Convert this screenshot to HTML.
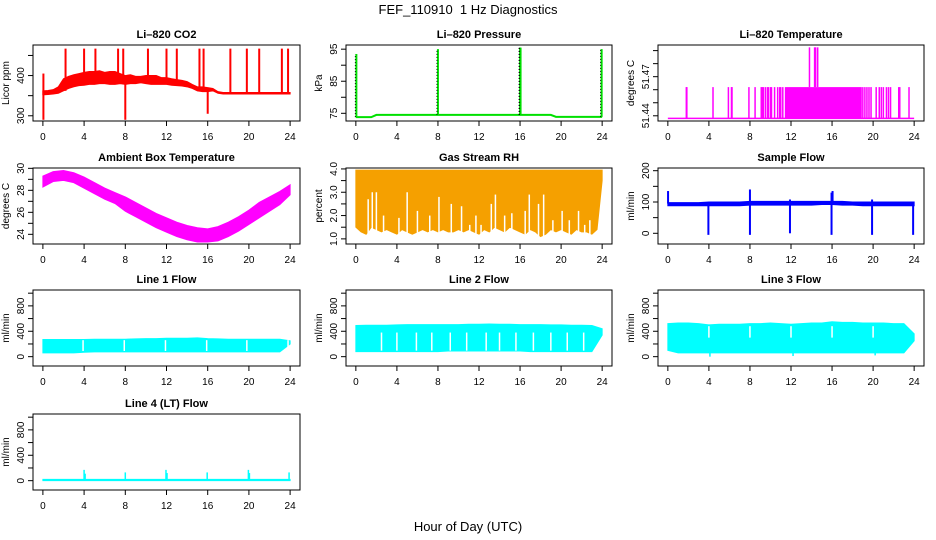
<!DOCTYPE html>
<html><head><meta charset="utf-8"><style>
html,body{margin:0;padding:0;background:#fff;}
svg{display:block;font-family:"Liberation Sans",Arial,sans-serif;}
</style></head><body>
<svg id="chart" width="936" height="540" viewBox="0 0 936 540">
<text x="468" y="14" text-anchor="middle" font-size="13">FEF_110910&#160; 1 Hz Diagnostics</text>
<text x="468" y="531" text-anchor="middle" font-size="13">Hour of Day (UTC)</text>
</svg>
<script>
// ---- data ----
const halfHours = [0,0.5,1,1.5,2,2.5,3,3.5,4,4.5,5,5.5,6,6.5,7,7.5,8,8.5,9,9.5,10,10.5,11,11.5,12,12.5,13,13.5,14,14.5,15,15.5,16,16.5,17,17.5,18,18.5,19,19.5,20,20.5,21,21.5,22,22.5,23,23.5,24];
const hours = [0,1,2,3,4,5,6,7,8,9,10,11,12,13,14,15,16,17,18,19,20,21,22,23,24];
const xTicks = [0,4,8,12,16,20,24];

const co2Lo = [352,353,354,356,362,368,372,375,376,378,378,380,380,378,378,380,378,380,380,382,380,378,378,378,378,376,375,374,372,368,362,360,360,362,356,354,354,354,354,354,354,354,354,354,354,354,354,354,354];
const co2Hi = [362,363,365,372,392,398,402,405,408,410,410,412,408,410,410,405,400,402,398,398,400,400,400,395,395,392,390,388,385,378,372,372,370,368,360,358,358,358,358,358,358,358,358,358,358,358,358,358,358];
const co2SpikeT = [0.05,2.2,4.0,5.1,7.3,7.8,10.2,12.0,13.0,15.2,15.6,18.2,19.8,21.0,23.2,23.8];
const co2SpikeV = [405,467,467,467,467,467,467,467,467,467,467,467,467,467,467,467];
const co2DipT = [0.05,8.0,16.0];
const co2DipV = [290,290,305];

const presBase = [73.8,73.8,73.8,73.8,74.5,74.5,74.5,74.5,74.5,74.5,74.5,74.5,74.5,74.5,74.5,74.5,74.5,74.5,74.5,74.5,74.5,74.5,74.5,74.5,74.5,74.5,74.5,74.5,74.5,74.5,74.5,74.5,74.5,74.5,74.5,74.5,74.5,74.5,74.5,73.9,73.9,73.9,73.9,73.9,73.9,73.9,73.9,73.9,73.9];
const presSpikeT = [0.05,8.0,16.0,16.05,23.95];
const presSpikeV = [93.5,95,95.5,95.5,95];

const tempBase = 51.438;
const tempSpikeT = [1.8,1.85,4.4,5.9,6.2,6.25,7.9,8.5,9.1,9.2,9.3,9.5,9.7,9.8,10.0,10.1,10.4,10.7,10.9,11.0,11.2,19.0,19.2,19.4,19.6,19.8,20.3,20.6,20.8,21.0,21.3,21.5,21.7,22.5,22.6,23.5];
const tempSpikeV = [51.462,51.462,51.462,51.462,51.462,51.462,51.462,51.462,51.462,51.462,51.462,51.462,51.462,51.462,51.462,51.462,51.462,51.462,51.462,51.462,51.462,51.462,51.462,51.462,51.462,51.462,51.462,51.462,51.462,51.462,51.462,51.462,51.462,51.462,51.462,51.462];
const tempDenseRange = [11.4,18.9];
const tempDenseV = 51.462;
const tempHighT = [13.8,14.3,14.4,14.6];
const tempHighV = [51.4925,51.4925,51.4925,51.4925];

const ambHi = [29.3,29.7,29.8,29.6,29.2,28.7,28.2,27.8,27.4,26.9,26.4,25.9,25.5,25.1,24.8,24.6,24.5,24.7,25.1,25.6,26.2,26.9,27.4,27.9,28.5];
const ambLo = [28.3,28.8,28.9,28.7,28.2,27.7,27.2,26.8,26.1,25.6,25.1,24.6,24.2,23.8,23.5,23.3,23.3,23.4,23.8,24.3,24.9,25.5,26.1,26.7,27.6];

const rhHi = 3.95;
const rhLo = [1.5,1.3,1.2,1.5,1.4,1.3,1.4,1.3,1.2,1.4,1.3,1.2,1.3,1.4,1.3,1.4,1.3,1.4,1.3,1.3,1.4,1.3,1.4,1.3,1.2,1.4,1.3,1.5,1.4,1.3,1.5,1.4,1.3,1.2,1.4,1.3,1.1,1.2,1.4,1.3,1.4,1.3,1.2,1.4,1.3,1.3,1.2,1.4,3.5];
const rhGapT = [1.2,1.6,2.0,2.7,4.2,5.0,6.0,7.2,8.1,9.3,10.3,11.1,11.7,12.2,13.2,13.6,14.5,15.2,16.5,16.9,17.8,18.3,19.2,20.1,20.8,21.7,22.3,22.8];
const rhGapTop = [2.7,3.0,3.0,2.0,1.9,3.0,2.2,2.0,2.8,2.5,2.4,1.6,2.0,1.6,2.5,2.9,2.0,2.1,2.2,2.9,2.5,2.9,1.8,2.2,1.8,2.2,1.6,1.8];

const sfLo = [88,88,88,88,88,88,88,88,90,90,90,90,90,90,90,92,92,90,90,88,88,88,88,88,88];
const sfHi = [98,98,98,98,100,100,100,100,102,102,102,102,102,102,102,102,102,102,100,100,100,100,100,100,100];
const sfSpikeT = [0.02,8.0,15.95,16.05,11.9,19.9];
const sfSpikeV = [135,140,130,135,108,108];
const sfDipT = [3.95,8.0,11.9,15.95,19.9,23.9];
const sfDipV = [-5,-5,0,-5,-5,-5];

const l1Lo = [60,60,60,60,70,75,75,75,75,75,75,75,75,75,75,75,75,75,75,75,75,75,75,75,200];
const l1Hi = [270,270,270,270,270,275,275,275,275,280,285,285,290,290,290,295,285,280,275,275,275,275,275,275,250];
const l1GapT = [3.9,7.9,11.9,15.9,19.8,23.8];

const l2Lo = [80,80,80,80,80,80,80,80,80,90,90,90,90,90,90,90,90,80,80,80,80,80,80,80,340];
const l2Hi = [490,495,495,495,500,505,505,505,505,505,505,510,510,515,510,510,505,505,505,500,500,495,495,490,440];
const l2GapT = [2.5,4.0,5.9,7.4,9.2,10.8,12.7,14.0,15.6,17.3,19.0,20.6,22.2];
const l2GapTop = 380;

const l3Lo = [100,60,60,60,60,60,60,60,60,60,60,60,60,60,60,60,60,60,60,60,60,60,60,60,250];
const l3Hi = [520,530,530,520,500,510,510,510,520,520,530,520,510,520,530,530,550,540,540,530,530,530,520,520,360];
const l3GapT = [4.0,8.0,12.0,16.0,20.0];
const l3DipT = [4.1,12.2,20.2];
const l3DipV = [0,10,20];

const l4Lo = 0;
const l4Hi = 20;
const l4SpikeT = [4.0,4.1,8.0,11.95,12.05,15.95,19.95,20.05,23.9];
const l4SpikeV = [170,110,130,170,120,130,170,120,130];

// ---- drawing ----
const svg = document.getElementById('chart');
const NS = 'http://www.w3.org/2000/svg';
function mk(tag, attrs, parent){const e=document.createElementNS(NS,tag);for(const k in attrs)e.setAttribute(k,attrs[k]);(parent||svg).appendChild(e);return e;}

const colL=[33,346,658], colW=[267,266,266], rowT=[45,168,290,414], H=76;

function panel(name,col,row,ymin,ymax,title,ylab,ticks,labels){
  const L=colL[col],W=colW[col],T=rowT[row];
  const g=mk('g',{});
  
  
  const p={g:g,L:L,W:W,T:T,
    x:t=>L+(t+0.96)/25.92*W,
    y:v=>T+H-(v-ymin)/(ymax-ymin)*H};
  const tt=mk('text',{x:L+W/2,y:T-7,'text-anchor':'middle','font-size':'11','font-weight':'bold'},g);
  tt.textContent=title;
  
  
  const yl=mk('text',{transform:`translate(${L-24},${T+H/2}) rotate(-90)`,'text-anchor':'middle','font-size':'10'},g);
  yl.textContent=ylab;
  
  
  p.data=mk('g',{},g);
  const ax=mk('g',{stroke:'#000','stroke-width':'1',fill:'none'},g);
  mk('rect',{x:L,y:T,width:W,height:H},ax);
  ticks.forEach((v,i)=>{
    const yy=p.y(v);
    mk('line',{x1:L-5,y1:yy,x2:L,y2:yy},ax);
    if(labels[i]!==''){
      const tl=mk('text',{transform:`translate(${L-9},${yy}) rotate(-90)`,'text-anchor':'middle','font-size':'10',stroke:'none',fill:'#000'},g);
      tl.textContent=labels[i];
      
      
    }
  });
  xTicks.forEach(t=>{
    const xx=p.x(t);
    mk('line',{x1:xx,y1:T+H,x2:xx,y2:T+H+5},ax);
    const xl=mk('text',{x:xx,y:T+H+19,'text-anchor':'middle','font-size':'10'},g);
    xl.textContent=t;
    
    
  });
  return p;
}
function band(p,ts,lo,hi,fill,nm){
  let pts=ts.map((t,i)=>p.x(t)+','+p.y(hi[i]));
  for(let i=ts.length-1;i>=0;i--)pts.push(p.x(ts[i])+','+p.y(lo[i]));
  const e=mk('polygon',{points:pts.join(' '),fill:fill,stroke:fill,'stroke-width':'1'},p.data);
  
  
  return e;
}
function vline(p,t,v0,v1,col,w,nm){
  const e=mk('line',{x1:p.x(t),x2:p.x(t),y1:p.y(v0),y2:p.y(v1),stroke:col,'stroke-width':w},p.data);
  
  
}
function poly(p,ts,vs,col,w,nm){
  const e=mk('polyline',{points:ts.map((t,i)=>p.x(t)+','+p.y(vs[i])).join(' '),fill:'none',stroke:col,'stroke-width':w},p.data);
  
  
}

// CO2
let p=panel('co2',0,0,287,476,'Li–820 CO2','Licor ppm',[300,350,400,450],['300','','400','']);
band(p,halfHours,co2Lo,co2Hi,'#ff0000','co2-band');
co2SpikeT.forEach((t,i)=>vline(p,t,co2Lo[Math.round(t*2)],co2SpikeV[i],'#ff0000',2,'co2-spike'));
co2DipT.forEach((t,i)=>vline(p,t,co2Hi[Math.round(t*2)],co2DipV[i],'#ff0000',2,'co2-dip'));

// Pressure
p=panel('pressure',1,0,72.6,96.3,'Li–820 Pressure','kPa',[75,80,85,90,95],['75','','85','','95']);
poly(p,halfHours,presBase,'#00e000',2,'pressure-line');
presSpikeT.forEach((t,i)=>vline(p,t,presBase[Math.round(t*2)],presSpikeV[i],'#00e000',2,'pressure-spike'));
presSpikeT.forEach((t,i)=>{const e=mk('line',{x1:p.x(t)-1,x2:p.x(t)-1,y1:p.y(presBase[Math.round(t*2)]),y2:p.y(presSpikeV[i]),stroke:'#000','stroke-width':1,'stroke-dasharray':'1,2'},p.data);

});

// Li-820 temperature
p=panel('temperature',2,0,51.436,51.4943,'Li–820 Temperature','degrees C',[51.44,51.45,51.46,51.47,51.48,51.49],['51.44','','','51.47','','']);
poly(p,[0,24],[tempBase,tempBase],'#ff00ff',1.5,'temperature-baseline');
{const e=mk('rect',{x:p.x(tempDenseRange[0]),y:p.y(tempDenseV),width:p.x(tempDenseRange[1])-p.x(tempDenseRange[0]),height:p.y(tempBase)-p.y(tempDenseV),fill:'#ff00ff'},p.data);

}
tempSpikeT.forEach((t,i)=>vline(p,t,tempBase,tempSpikeV[i],'#ff00ff',1.5,'temperature-spike'));
tempHighT.forEach((t,i)=>vline(p,t,tempDenseV,tempHighV[i],'#ff00ff',1.5,'temperature-high-spike'));

// Ambient box temperature
p=panel('ambient',0,1,23.12,30.03,'Ambient Box Temperature','degrees C',[24,25,26,27,28,29,30],['24','','26','','28','','30']);
band(p,hours,ambLo,ambHi,'#ff00ff','ambient-band');

// Gas stream RH
p=panel('rh',1,1,0.78,4.04,'Gas Stream RH','percent',[1,1.5,2,2.5,3,3.5,4],['1.0','','2.0','','3.0','','4.0']);
band(p,halfHours,rhLo,halfHours.map(()=>rhHi),'#f5a000','rh-band');
rhGapT.forEach((t,i)=>vline(p,t,0.9,rhGapTop[i],'#fff',1.5,'rh-gap'));

// Sample flow
p=panel('sample-flow',2,1,-34.2,208.6,'Sample Flow','ml/min',[0,50,100,150,200],['0','','100','','200']);
band(p,hours,sfLo,sfHi,'#0000ff','sample-flow-band');
sfSpikeT.forEach((t,i)=>vline(p,t,95,sfSpikeV[i],'#0000ff',2,'sample-flow-spike'));
sfDipT.forEach((t,i)=>vline(p,t,95,sfDipV[i],'#0000ff',2,'sample-flow-dip'));

const flowTicks=[0,200,400,600,800,1000], flowLabels=['0','','400','','800',''];
// Line 1
p=panel('line1-flow',0,2,-147,1050,'Line 1 Flow','ml/min',flowTicks,flowLabels);
band(p,hours,l1Lo,l1Hi,'#00ffff','line1-band');
l1GapT.forEach(t=>vline(p,t,90,260,'#fff',1.5,'line1-gap'));
// Line 2
p=panel('line2-flow',1,2,-147,1050,'Line 2 Flow','ml/min',flowTicks,flowLabels);
band(p,hours,l2Lo,l2Hi,'#00ffff','line2-band');
l2GapT.forEach(t=>vline(p,t,95,l2GapTop,'#fff',1.5,'line2-gap'));
// Line 3
p=panel('line3-flow',2,2,-147,1050,'Line 3 Flow','ml/min',flowTicks,flowLabels);
band(p,hours,l3Lo,l3Hi,'#00ffff','line3-band');
l3GapT.forEach(t=>vline(p,t,300,480,'#fff',1.5,'line3-gap'));
l3DipT.forEach((t,i)=>vline(p,t,60,l3DipV[i],'#00ffff',1.5,'line3-dip'));
// Line 4
p=panel('line4-flow',0,3,-147,1050,'Line 4 (LT) Flow','ml/min',flowTicks,flowLabels);
band(p,[0,24],[l4Lo,l4Lo],[l4Hi,l4Hi],'#00ffff','line4-band');
l4SpikeT.forEach((t,i)=>vline(p,t,l4Hi,l4SpikeV[i],'#00ffff',1.5,'line4-spike'));
</script>
</body></html>
